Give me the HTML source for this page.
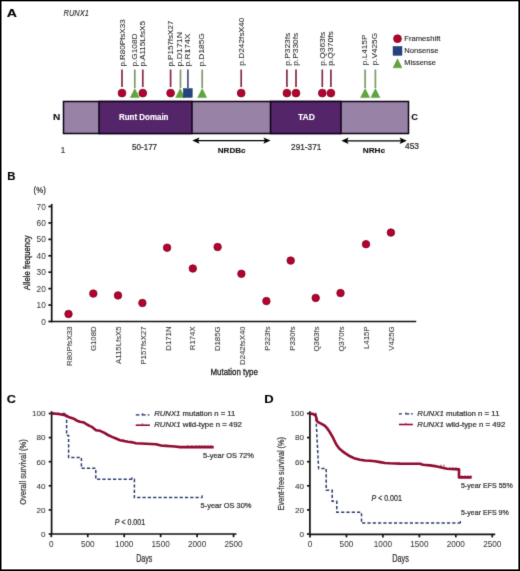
<!DOCTYPE html>
<html><head><meta charset="utf-8">
<style>
html,body{margin:0;padding:0;background:#fff;}
body{width:520px;height:571px;overflow:hidden;}
svg{display:block;font-family:"Liberation Sans",sans-serif;}
</style></head>
<body>
<svg width="520" height="571" viewBox="0 0 520 571">
<defs><filter id="soft" x="0" y="0" width="520" height="571" filterUnits="userSpaceOnUse" color-interpolation-filters="sRGB"><feConvolveMatrix order="3" kernelMatrix="0.0113 0.0838 0.0113 0.0838 0.6193 0.0838 0.0113 0.0838 0.0113" edgeMode="duplicate"/></filter></defs>
<g filter="url(#soft)">
<rect x="0" y="0" width="520" height="571" fill="#fff"/>

<!-- ============ PANEL A ============ -->
<text x="6.8" y="16.7" font-size="11.4" font-weight="bold" fill="#000" textLength="10.2" lengthAdjust="spacingAndGlyphs" stroke="#000" stroke-width="0.12">A</text>
<text x="63.5" y="15.8" font-size="8.6" font-style="italic" fill="#222" textLength="25.3" lengthAdjust="spacingAndGlyphs" stroke="#222" stroke-width="0.08">RUNX1</text>

<!-- protein bar -->
<g stroke="#0c0212" stroke-width="1.5">
<rect x="63.5" y="101.5" width="345" height="32" fill="#9883a7"/>
<rect x="99" y="101.5" width="93" height="32" fill="#55256a"/>
<rect x="270.5" y="101.5" width="70.5" height="32" fill="#55256a"/>
</g>
<text x="118.9" y="119.6" font-size="8.4" font-weight="bold" fill="#fff" textLength="49.6" lengthAdjust="spacingAndGlyphs" stroke="#fff" stroke-width="0.12">Runt Domain</text>
<text x="298" y="119.6" font-size="8.2" font-weight="bold" fill="#fff" textLength="16.8" lengthAdjust="spacingAndGlyphs" stroke="#fff" stroke-width="0.12">TAD</text>
<text x="53" y="119.9" font-size="8.3" font-weight="bold" fill="#111" textLength="7.3" lengthAdjust="spacingAndGlyphs" stroke="#111" stroke-width="0.12">N</text>
<text x="411.3" y="119.9" font-size="8.4" font-weight="bold" fill="#111" textLength="6.7" lengthAdjust="spacingAndGlyphs" stroke="#111" stroke-width="0.12">C</text>

<!-- below bar -->
<text x="60.8" y="152.9" font-size="8.2" fill="#444" stroke="#444" stroke-width="0.22">1</text>
<text x="132.1" y="149.8" font-size="8.6" fill="#2a2a2a" textLength="25" lengthAdjust="spacingAndGlyphs" stroke="#2a2a2a" stroke-width="0.22">50-177</text>
<text x="291.1" y="150.1" font-size="8.6" fill="#2a2a2a" textLength="30.2" lengthAdjust="spacingAndGlyphs" stroke="#2a2a2a" stroke-width="0.22">291-371</text>
<text x="405" y="149.4" font-size="8.4" fill="#2a2a2a" textLength="14" lengthAdjust="spacingAndGlyphs" stroke="#2a2a2a" stroke-width="0.22">453</text>
<text x="217.8" y="152.8" font-size="8" font-weight="bold" fill="#111" textLength="27.8" lengthAdjust="spacingAndGlyphs" stroke="#111" stroke-width="0.12">NRDBc</text>
<text x="362.7" y="153" font-size="8" font-weight="bold" fill="#111" textLength="22.4" lengthAdjust="spacingAndGlyphs" stroke="#111" stroke-width="0.12">NRHc</text>
<g stroke="#000" stroke-width="1.3" fill="none">
<line x1="196" y1="140.6" x2="267" y2="140.6"/>
<line x1="345" y1="140.8" x2="403" y2="140.8"/>
</g>
<g fill="#000">
<path d="M192.3,140.6 L199.5,137.4 L198,140.6 L199.5,143.8 Z"/>
<path d="M270.6,140.6 L263.4,137.4 L264.9,140.6 L263.4,143.8 Z"/>
<path d="M341.4,140.8 L348.6,137.6 L347.1,140.8 L348.6,144 Z"/>
<path d="M406.8,140.8 L399.6,137.6 L401.1,140.8 L399.6,144 Z"/>
</g>

<!-- stems -->
<g stroke-width="1.7">
<line x1="122" y1="69.5" x2="122" y2="87" stroke="#822a44"/>
<line x1="134.8" y1="69.5" x2="134.8" y2="88" stroke="#7a9a6a"/>
<line x1="142.8" y1="69.5" x2="142.8" y2="87" stroke="#822a44"/>
<line x1="170.6" y1="69.5" x2="170.6" y2="87" stroke="#822a44"/>
<line x1="180.5" y1="69.5" x2="180.5" y2="88" stroke="#7a9a6a"/>
<line x1="187.9" y1="69.5" x2="187.9" y2="88" stroke="#44507a"/>
<line x1="202.2" y1="69.5" x2="202.2" y2="88" stroke="#7a9a6a"/>
<line x1="241.2" y1="69.5" x2="241.2" y2="87" stroke="#822a44"/>
<line x1="286.9" y1="69.5" x2="286.9" y2="87" stroke="#822a44"/>
<line x1="296" y1="69.5" x2="296" y2="87" stroke="#822a44"/>
<line x1="322.3" y1="69.5" x2="322.3" y2="87" stroke="#822a44"/>
<line x1="330.9" y1="69.5" x2="330.9" y2="87" stroke="#822a44"/>
<line x1="365.1" y1="69.5" x2="365.1" y2="88" stroke="#7a9a6a"/>
<line x1="375.4" y1="69.5" x2="375.4" y2="88" stroke="#7a9a6a"/>
</g>
<!-- markers -->
<g fill="#b6002f" stroke="#760a24" stroke-width="0.8">
<circle cx="122" cy="93.1" r="3.9"/>
<circle cx="142.8" cy="93.1" r="3.9"/>
<circle cx="170.6" cy="93.1" r="3.9"/>
<circle cx="241.2" cy="93.1" r="3.9"/>
<circle cx="286.9" cy="93.1" r="3.9"/>
<circle cx="296" cy="93.1" r="3.9"/>
<circle cx="322.3" cy="93.1" r="3.9"/>
<circle cx="330.9" cy="93.1" r="3.9"/>
<circle cx="397.5" cy="38.7" r="3.9"/>
</g>
<g fill="#5fa53c" stroke="#4a8a30" stroke-width="0.4">
<path d="M134.8,88.6 L139.3,97.6 L130.3,97.6 Z"/>
<path d="M180.2,88.6 L184.7,97.6 L175.7,97.6 Z"/>
<path d="M202.2,88.6 L206.7,97.6 L197.7,97.6 Z"/>
<path d="M365.1,88.6 L369.6,97.6 L360.6,97.6 Z"/>
<path d="M375.4,88.6 L379.9,97.6 L370.9,97.6 Z"/>
<path d="M397.5,58.8 L402,67.8 L393,67.8 Z"/>
</g>
<g fill="#23427f" stroke="#1a3060" stroke-width="0.4">
<rect x="183.3" y="88.5" width="9" height="9"/>
<rect x="393" y="46.4" width="9" height="9"/>
</g>
<!-- legend text -->
<g font-size="7.5" fill="#222" stroke="#222" stroke-width="0.1">
<text x="404.3" y="41.3" textLength="36.1" lengthAdjust="spacingAndGlyphs">Frameshift</text>
<text x="404.3" y="53.3" textLength="34.2" lengthAdjust="spacingAndGlyphs">Nonsense</text>
<text x="404.3" y="65.3" textLength="31.6" lengthAdjust="spacingAndGlyphs">Missense</text>
</g>
<!-- mutation labels (rotated) -->
<g font-size="7.3" fill="#2a2a2a" stroke="#2a2a2a" stroke-width="0.06">
<text transform="translate(124.7,66.6) rotate(-90)" textLength="47.2" lengthAdjust="spacingAndGlyphs">p.R80PfsX33</text>
<text transform="translate(137.0,66.6) rotate(-90)" textLength="33.1" lengthAdjust="spacingAndGlyphs">p.G108D</text>
<text transform="translate(144.6,66.6) rotate(-90)" textLength="45.5" lengthAdjust="spacingAndGlyphs">p.A115LfsX5</text>
<text transform="translate(172.8,66.6) rotate(-90)" textLength="46" lengthAdjust="spacingAndGlyphs">p.P157fsX27</text>
<text transform="translate(182.4,66.6) rotate(-90)" textLength="34.6" lengthAdjust="spacingAndGlyphs">p.D171N</text>
<text transform="translate(190.1,66.6) rotate(-90)" textLength="32.9" lengthAdjust="spacingAndGlyphs">p.R174X</text>
<text transform="translate(204.4,66.6) rotate(-90)" textLength="33.4" lengthAdjust="spacingAndGlyphs">p.D185G</text>
<text transform="translate(244.1,65.8) rotate(-90)" textLength="48.2" lengthAdjust="spacingAndGlyphs">p.D242fsX40</text>
<text transform="translate(289.6,65.8) rotate(-90)" textLength="33.0" lengthAdjust="spacingAndGlyphs">p.P323fs</text>
<text transform="translate(298.2,65.8) rotate(-90)" textLength="33.0" lengthAdjust="spacingAndGlyphs">p.P330fs</text>
<text transform="translate(324.5,65.8) rotate(-90)" textLength="34.1" lengthAdjust="spacingAndGlyphs">p.Q363fs</text>
<text transform="translate(333.1,65.8) rotate(-90)" textLength="34.6" lengthAdjust="spacingAndGlyphs">p.Q370fs</text>
<text transform="translate(367.3,65.2) rotate(-90)" textLength="30.6" lengthAdjust="spacingAndGlyphs">p.L415P</text>
<text transform="translate(377.4,65.2) rotate(-90)" textLength="32.2" lengthAdjust="spacingAndGlyphs">p.V425G</text>
</g>

<!-- ============ PANEL B ============ -->
<text x="7.2" y="179.9" font-size="11" font-weight="bold" fill="#000" textLength="8.2" lengthAdjust="spacingAndGlyphs" stroke="#000" stroke-width="0.12">B</text>
<text x="33.6" y="192.6" font-size="8.2" fill="#2a2a2a" textLength="12.2" lengthAdjust="spacingAndGlyphs" stroke="#2a2a2a" stroke-width="0.22">(%)</text>
<g stroke="#111" stroke-width="1.7" fill="none">
<line x1="51.7" y1="203.9" x2="51.7" y2="322.2"/>
<line x1="51" y1="321.5" x2="416.2" y2="321.5"/>
<line x1="48.4" y1="321.50" x2="51.7" y2="321.50"/>
<line x1="48.4" y1="305.07" x2="51.7" y2="305.07"/>
<line x1="48.4" y1="288.64" x2="51.7" y2="288.64"/>
<line x1="48.4" y1="272.21" x2="51.7" y2="272.21"/>
<line x1="48.4" y1="255.78" x2="51.7" y2="255.78"/>
<line x1="48.4" y1="239.35" x2="51.7" y2="239.35"/>
<line x1="48.4" y1="222.92" x2="51.7" y2="222.92"/>
<line x1="48.4" y1="206.49" x2="51.7" y2="206.49"/>
</g>
<g font-size="8.9" fill="#3c3c3c" text-anchor="end" stroke="#3c3c3c" stroke-width="0.05">
<text x="45.9" y="324.60" textLength="4.6" lengthAdjust="spacingAndGlyphs">0</text>
<text x="45.9" y="308.17" textLength="9.3" lengthAdjust="spacingAndGlyphs">10</text>
<text x="45.9" y="291.74" textLength="9.3" lengthAdjust="spacingAndGlyphs">20</text>
<text x="45.9" y="275.31" textLength="9.3" lengthAdjust="spacingAndGlyphs">30</text>
<text x="45.9" y="258.88" textLength="9.3" lengthAdjust="spacingAndGlyphs">40</text>
<text x="45.9" y="242.45" textLength="9.3" lengthAdjust="spacingAndGlyphs">50</text>
<text x="45.9" y="226.02" textLength="9.3" lengthAdjust="spacingAndGlyphs">60</text>
<text x="45.9" y="209.59" textLength="9.3" lengthAdjust="spacingAndGlyphs">70</text>
</g>
<text transform="translate(30.2,290.1) rotate(-90)" font-size="9.2" fill="#222" textLength="54.8" lengthAdjust="spacingAndGlyphs" stroke="#222" stroke-width="0.3">Allele frequency</text>
<text x="210.5" y="375.2" font-size="9.2" fill="#222" textLength="47.4" lengthAdjust="spacingAndGlyphs" stroke="#222" stroke-width="0.3">Mutation type</text>
<g fill="#b6002f" stroke="#760a24" stroke-width="0.8">
<circle cx="68.5" cy="314" r="3.75"/>
<circle cx="93.3" cy="293.6" r="3.75"/>
<circle cx="118" cy="295.4" r="3.75"/>
<circle cx="142.4" cy="303" r="3.75"/>
<circle cx="167.1" cy="247.7" r="3.75"/>
<circle cx="192.8" cy="268.5" r="3.75"/>
<circle cx="217.6" cy="247" r="3.75"/>
<circle cx="241.4" cy="273.8" r="3.75"/>
<circle cx="266.4" cy="301.1" r="3.75"/>
<circle cx="290.7" cy="260.6" r="3.75"/>
<circle cx="315.7" cy="297.9" r="3.75"/>
<circle cx="340.5" cy="293.1" r="3.75"/>
<circle cx="366" cy="244.2" r="3.75"/>
<circle cx="390.9" cy="232.6" r="3.75"/>
</g>
<g font-size="8.1" fill="#383838" text-anchor="end" stroke="#383838" stroke-width="0.08">
<text transform="translate(71.50,326.4) rotate(-90)" textLength="39.5" lengthAdjust="spacingAndGlyphs">R80PfsX33</text>
<text transform="translate(96.28,326.4) rotate(-90)" textLength="24.7" lengthAdjust="spacingAndGlyphs">G108D</text>
<text transform="translate(121.06,326.4) rotate(-90)" textLength="37.6" lengthAdjust="spacingAndGlyphs">A115LfsX5</text>
<text transform="translate(145.84,326.4) rotate(-90)" textLength="38.2" lengthAdjust="spacingAndGlyphs">P157fsX27</text>
<text transform="translate(170.62,326.4) rotate(-90)" textLength="24.3" lengthAdjust="spacingAndGlyphs">D171N</text>
<text transform="translate(195.40,326.4) rotate(-90)" textLength="23.8" lengthAdjust="spacingAndGlyphs">R174X</text>
<text transform="translate(220.18,326.4) rotate(-90)" textLength="24.7" lengthAdjust="spacingAndGlyphs">D185G</text>
<text transform="translate(244.96,326.4) rotate(-90)" textLength="38.6" lengthAdjust="spacingAndGlyphs">D242fsX40</text>
<text transform="translate(269.74,326.4) rotate(-90)" textLength="24.3" lengthAdjust="spacingAndGlyphs">P323fs</text>
<text transform="translate(294.52,326.4) rotate(-90)" textLength="24.3" lengthAdjust="spacingAndGlyphs">P330fs</text>
<text transform="translate(319.30,326.4) rotate(-90)" textLength="25.1" lengthAdjust="spacingAndGlyphs">Q363fs</text>
<text transform="translate(344.08,326.4) rotate(-90)" textLength="25.1" lengthAdjust="spacingAndGlyphs">Q370fs</text>
<text transform="translate(368.86,326.4) rotate(-90)" textLength="22.6" lengthAdjust="spacingAndGlyphs">L415P</text>
<text transform="translate(393.64,326.4) rotate(-90)" textLength="24.3" lengthAdjust="spacingAndGlyphs">V425G</text>
</g>

<!-- ============ PANEL C ============ -->
<text x="6.8" y="403" font-size="11" font-weight="bold" fill="#000" textLength="9.2" lengthAdjust="spacingAndGlyphs" stroke="#000" stroke-width="0.12">C</text>
<!-- ============ PANEL D ============ -->
<text x="264.2" y="402.9" font-size="11" font-weight="bold" fill="#000" textLength="9.4" lengthAdjust="spacingAndGlyphs" stroke="#000" stroke-width="0.12">D</text>

<!-- C axes -->
<g stroke="#111" stroke-width="1.7" fill="none">
<line x1="51.6" y1="411.2" x2="51.6" y2="534.6"/>
<line x1="51" y1="534" x2="236.5" y2="534"/>
<line x1="48.7" y1="534.0" x2="51.6" y2="534.0"/>
<line x1="48.7" y1="509.9" x2="51.6" y2="509.9"/>
<line x1="48.7" y1="485.8" x2="51.6" y2="485.8"/>
<line x1="48.7" y1="461.7" x2="51.6" y2="461.7"/>
<line x1="48.7" y1="437.6" x2="51.6" y2="437.6"/>
<line x1="48.7" y1="413.5" x2="51.6" y2="413.5"/>
<line x1="51.30" y1="534" x2="51.30" y2="537.2"/>
<line x1="87.75" y1="534" x2="87.75" y2="537.2"/>
<line x1="124.20" y1="534" x2="124.20" y2="537.2"/>
<line x1="160.65" y1="534" x2="160.65" y2="537.2"/>
<line x1="197.10" y1="534" x2="197.10" y2="537.2"/>
<line x1="233.55" y1="534" x2="233.55" y2="537.2"/>
</g>
<g font-size="8.1" fill="#383838" text-anchor="end" stroke="#383838" stroke-width="0.08">
<text x="45.5" y="536.8">0</text>
<text x="45.5" y="512.7">20</text>
<text x="45.5" y="488.6">40</text>
<text x="45.5" y="464.5">60</text>
<text x="45.5" y="440.4">80</text>
<text x="45.5" y="416.3">100</text>
</g>
<g font-size="8.2" fill="#3a3a3a" text-anchor="middle" stroke="#3a3a3a" stroke-width="0.05">
<text x="51.30" y="547.2">0</text>
<text x="87.75" y="547.2">500</text>
<text x="124.20" y="547.2">1000</text>
<text x="160.65" y="547.2">1500</text>
<text x="197.10" y="547.2">2000</text>
<text x="233.55" y="547.2">2500</text>
</g>
<!-- D axes -->
<g stroke="#111" stroke-width="1.7" fill="none">
<line x1="309.9" y1="411.2" x2="309.9" y2="534.6"/>
<line x1="309.3" y1="534.3" x2="495.2" y2="534.3"/>
<line x1="307" y1="534.0" x2="309.9" y2="534.0"/>
<line x1="307" y1="509.9" x2="309.9" y2="509.9"/>
<line x1="307" y1="485.8" x2="309.9" y2="485.8"/>
<line x1="307" y1="461.7" x2="309.9" y2="461.7"/>
<line x1="307" y1="437.6" x2="309.9" y2="437.6"/>
<line x1="307" y1="413.5" x2="309.9" y2="413.5"/>
<line x1="310.00" y1="534.2" x2="310.00" y2="537.4"/>
<line x1="346.45" y1="534.2" x2="346.45" y2="537.4"/>
<line x1="382.90" y1="534.2" x2="382.90" y2="537.4"/>
<line x1="419.35" y1="534.2" x2="419.35" y2="537.4"/>
<line x1="455.80" y1="534.2" x2="455.80" y2="537.4"/>
<line x1="492.25" y1="534.2" x2="492.25" y2="537.4"/>
</g>
<g font-size="8.1" fill="#383838" text-anchor="end" stroke="#383838" stroke-width="0.08">
<text x="303.9" y="536.8">0</text>
<text x="303.9" y="512.7">20</text>
<text x="303.9" y="488.6">40</text>
<text x="303.9" y="464.5">60</text>
<text x="303.9" y="440.4">80</text>
<text x="303.9" y="416.3">100</text>
</g>
<g font-size="8.2" fill="#3a3a3a" text-anchor="middle" stroke="#3a3a3a" stroke-width="0.05">
<text x="310.00" y="547.2">0</text>
<text x="346.45" y="547.2">500</text>
<text x="382.90" y="547.2">1000</text>
<text x="419.35" y="547.2">1500</text>
<text x="455.80" y="547.2">2000</text>
<text x="492.25" y="547.2">2500</text>
</g>
<!-- C curves -->
<path fill="none" stroke="#2d3d6b" stroke-width="1.5" stroke-dasharray="3.2 2.1" d="M51.6,413.5 H66.6 V435.4 H68.6 V457.4 H81.4 V468.3 H95.8 V479.3 H134.4 V497.5 H202.4"/>
<polyline fill="none" stroke="#900b30" stroke-width="2.6" stroke-linejoin="round" points="51.6,413.4 56,413.8 60,414.3 64,415.1 67,416.1 70,417.6 74,418.8 77,420.7 80,421.8 84,422.6 87,424.5 90,426.1 92,426.9 96,430.2 100,430.8 104,432.7 108,435 112,436.9 116,438.5 120,440.2 124,440.9 128,441.7 131,442.1 136,443.3 141,443.5 146,443.7 151,444 156,444.3 161,445.5 166,445.9 171,446.2 175,446.5 180,447.1 213.7,447.1"/>
<g stroke="#2d3d6b" stroke-width="1.2"><line x1="202.2" y1="495.3" x2="202.2" y2="497.5"/><line x1="132" y1="477.3" x2="132" y2="479.3"/></g>
<g stroke="#8e0b2e" stroke-width="0.9"><line x1="188" y1="445.2" x2="188" y2="447"/><line x1="192" y1="445.2" x2="192" y2="447"/><line x1="196" y1="445.2" x2="196" y2="447"/><line x1="199" y1="445.2" x2="199" y2="447"/><line x1="202" y1="445.2" x2="202" y2="447"/><line x1="205" y1="445.2" x2="205" y2="447"/><line x1="208" y1="445.2" x2="208" y2="447"/><line x1="211" y1="445.2" x2="211" y2="447"/></g>
<!-- C legend -->
<g stroke="#2d3d6b" stroke-width="1.4"><line x1="135.8" y1="414.9" x2="139.4" y2="414.9"/><line x1="141.6" y1="414.9" x2="145.6" y2="414.9"/><line x1="147.7" y1="414.9" x2="149.3" y2="414.9"/><line x1="142.6" y1="413" x2="142.6" y2="414.9" stroke-width="0.9"/></g>
<line x1="135.7" y1="425.2" x2="149.9" y2="425.2" stroke="#900b30" stroke-width="1.6"/>
<line x1="142.4" y1="423.2" x2="142.4" y2="425.2" stroke="#900b30" stroke-width="0.7"/>
<g font-size="7.3" fill="#333" stroke="#333" stroke-width="0.22">
<text x="154.2" y="416.4" textLength="81.2" lengthAdjust="spacingAndGlyphs"><tspan font-style="italic">RUNX1</tspan> mutation n = 11</text>
<text x="154.2" y="427.4" textLength="87.7" lengthAdjust="spacingAndGlyphs"><tspan font-style="italic">RUNX1</tspan> wild-type n = 492</text>
<text x="203.1" y="458.4" textLength="50.7" lengthAdjust="spacingAndGlyphs">5-year OS 72%</text>
<text x="200.6" y="507.5" textLength="50.9" lengthAdjust="spacingAndGlyphs">5-year OS 30%</text>
</g>
<text x="114.8" y="524.9" font-size="8.6" fill="#2a2a2a" textLength="30.3" lengthAdjust="spacingAndGlyphs" stroke="#2a2a2a" stroke-width="0.22"><tspan font-style="italic">P</tspan> &lt; 0.001</text>
<text x="136.2" y="561.6" font-size="10.4" fill="#2a2a2a" textLength="16.2" lengthAdjust="spacingAndGlyphs" stroke="#2a2a2a" stroke-width="0.22">Days</text>
<text transform="translate(26.1,504.8) rotate(-90)" font-size="8.8" fill="#333" textLength="65.6" lengthAdjust="spacingAndGlyphs" stroke="#333" stroke-width="0.22">Overall survival (%)</text>

<!-- D curves -->
<path fill="none" stroke="#2d3d6b" stroke-width="1.5" stroke-dasharray="3.2 2.1" d="M309.9,413.6 H315.8 L318.6,468.4 H326.2 V490.3 H332.2 V501.3 H336.8 V512.3 H361.5 V523.1 H460.6"/>
<polyline fill="none" stroke="#900b30" stroke-width="2.6" stroke-linejoin="round" points="309.9,413.7 313,414 315.5,415.4 316.5,418.5 317,421.1 319,422.7 322,424.2 325,425.9 327,428.1 330,432.5 333,437.7 336,443.9 339,448.2 342,450.9 345,453.1 350,456.3 355,458.6 360,459.8 365,460.5 370,460.7 375,461.3 380,462.1 385,463 390,463.3 400,463.6 420,463.7 423,464.8 430,465.4 437,466.5 447,468.7 459,469.4 459,477.4 471.6,477.4"/>
<g stroke="#2d3d6b" stroke-width="1.2"><line x1="460.4" y1="521" x2="460.4" y2="523.1"/></g>
<g stroke="#8e0b2e" stroke-width="0.9"><line x1="462" y1="475.3" x2="462" y2="477.3"/><line x1="465" y1="475.3" x2="465" y2="477.3"/><line x1="468" y1="475.3" x2="468" y2="477.3"/><line x1="471" y1="475.3" x2="471" y2="477.3"/><line x1="450" y1="467.4" x2="450" y2="469.3"/><line x1="453" y1="467.4" x2="453" y2="469.3"/><line x1="456" y1="467.4" x2="456" y2="469.3"/><line x1="432" y1="464.6" x2="432" y2="466.4"/><line x1="435" y1="464.6" x2="435" y2="466.4"/><line x1="441" y1="464.6" x2="441" y2="466.4"/><line x1="444" y1="464.6" x2="444" y2="466.4"/></g>
<!-- D legend -->
<g stroke="#2d3d6b" stroke-width="1.4"><line x1="398.9" y1="413.9" x2="401.8" y2="413.9"/><line x1="405.2" y1="413.9" x2="409.3" y2="413.9"/><line x1="411" y1="413.9" x2="412.8" y2="413.9"/><line x1="405.9" y1="412.2" x2="405.9" y2="413.9" stroke-width="0.8"/></g>
<line x1="398.9" y1="424.5" x2="412.9" y2="424.5" stroke="#900b30" stroke-width="1.6"/>
<line x1="405.9" y1="422.8" x2="405.9" y2="424.5" stroke="#900b30" stroke-width="0.7"/>
<g font-size="7.3" fill="#333" stroke="#333" stroke-width="0.22">
<text x="417.3" y="415.6" textLength="82.2" lengthAdjust="spacingAndGlyphs"><tspan font-style="italic">RUNX1</tspan> mutation n = 11</text>
<text x="417.3" y="426.8" textLength="88" lengthAdjust="spacingAndGlyphs"><tspan font-style="italic">RUNX1</tspan> wild-type n = 492</text>
<text x="461" y="487.6" textLength="51.8" lengthAdjust="spacingAndGlyphs">5-year EFS 55%</text>
<text x="461" y="514.6" textLength="47.8" lengthAdjust="spacingAndGlyphs">5-year EFS 9%</text>
</g>
<text x="371.5" y="500.5" font-size="8.6" fill="#2a2a2a" textLength="30.3" lengthAdjust="spacingAndGlyphs" stroke="#2a2a2a" stroke-width="0.22"><tspan font-style="italic">P</tspan> &lt; 0.001</text>
<text x="392.3" y="561.5" font-size="10.4" fill="#2a2a2a" textLength="16.6" lengthAdjust="spacingAndGlyphs" stroke="#2a2a2a" stroke-width="0.22">Days</text>
<text transform="translate(284.4,510.3) rotate(-90)" font-size="8.8" fill="#333" textLength="73.1" lengthAdjust="spacingAndGlyphs" stroke="#333" stroke-width="0.22">Event-free survival (%)</text>

</g>
<!-- border -->
<g fill="#000"><rect x="0" y="0" width="520" height="1.35"/><rect x="0" y="0" width="1.5" height="571"/><rect x="518.4" y="0" width="1.6" height="571"/><rect x="0" y="569.4" width="520" height="1.6"/></g>
</svg>
</body></html>
